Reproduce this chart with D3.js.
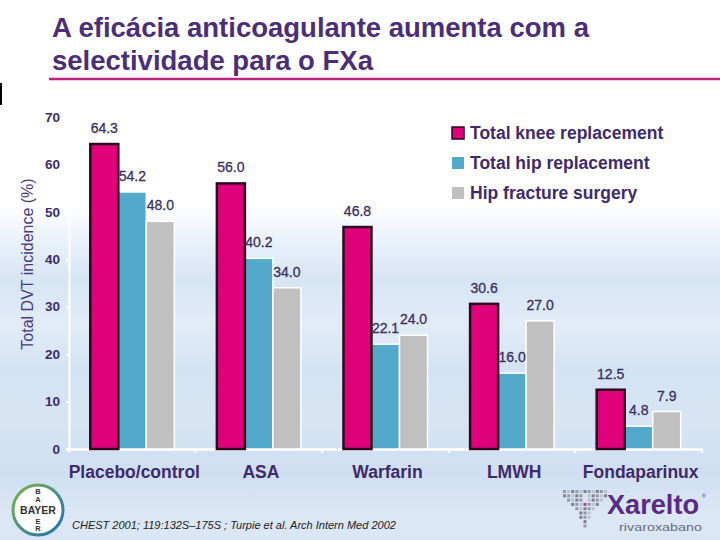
<!DOCTYPE html>
<html>
<head>
<meta charset="utf-8">
<script src="https://cdn.jsdelivr.net/npm/d3@7"></script>
<style>
  html, body { margin: 0; padding: 0; background: #fff; }
  svg { display: block; }
</style>
</head>
<body>
<svg id="chart" width="720" height="540"></svg>
<script>
const categories = ["Placebo/control", "ASA", "Warfarin", "LMWH", "Fondaparinux"];
const seriesNames = ["Total knee replacement", "Total hip replacement", "Hip fracture surgery"];
const kneeValues = [64.3, 56.0, 46.8, 30.6, 12.5];
const hipValues = [54.2, 40.2, 22.1, 16.0, 4.8];
const fractureValues = [48.0, 34.0, 24.0, 27.0, 7.9];
const yTicks = [0, 10, 20, 30, 40, 50, 60, 70];
const titleLines = ["A eficácia anticoagulante aumenta com a", "selectividade para o FXa"];
const yTitle = "Total DVT incidence (%)";
const citation = "CHEST 2001; 119:132S\u2013175S ; Turpie et al. Arch Intern Med 2002";

const seriesValues = [kneeValues, hipValues, fractureValues];
const colors = ["#e0007a", "#52a9c9", "#c0c0c0"];
const strokes = ["#2a0a1e", "#ffffff", "#ffffff"];
const textColor = "#3d2c68";

const svg = d3.select("#chart");

// background
const defs = svg.append("defs");
const bg = defs.append("linearGradient").attr("id", "bg").attr("x1", 0).attr("y1", 0).attr("x2", 0).attr("y2", 1);
[[0, "#ffffff"], [0.38, "#ffffff"], [0.45, "#e8f0f9"], [0.52, "#d6e5f4"], [0.60, "#e2ecf7"], [0.68, "#d4e3f3"],
 [0.78, "#d6e4f3"], [0.88, "#cfdff1"], [0.95, "#dbe7f5"], [1, "#dae6f4"]]
  .forEach(([o, c]) => bg.append("stop").attr("offset", o).attr("stop-color", c));
svg.append("rect").attr("width", 720).attr("height", 540).attr("fill", "url(#bg)");

// title
svg.append("g").selectAll("text").data(titleLines).join("text")
  .attr("x", 52).attr("y", (d, i) => 37 + i * 33)
  .attr("font-family", "Liberation Sans, Arial, sans-serif")
  .attr("font-weight", "bold").attr("font-size", 27.5)
  .attr("fill", "#4a2f78").text(d => d);
svg.append("line").attr("x1", 49).attr("x2", 720).attr("y1", 79).attr("y2", 79)
  .attr("stroke", "#c2227f").attr("stroke-width", 2.5);
svg.append("line").attr("x1", 1).attr("x2", 1).attr("y1", 83).attr("y2", 105)
  .attr("stroke", "#000").attr("stroke-width", 2);

// scales
const x0 = d3.scaleBand().domain(categories).range([69, 702]).paddingInner(0).paddingOuter(0);
const x1 = d3.scaleBand().domain(d3.range(seriesNames.length)).range([0, x0.bandwidth()]).paddingInner(0).paddingOuter(0.76);
const y = d3.scaleLinear().domain([0, 70]).range([449, 117]);

// axes (white)
const yAxis = svg.append("g").attr("transform", "translate(69,0)")
  .call(d3.axisLeft(y).tickValues(yTicks).tickSize(3).tickFormat(""));
yAxis.selectAll("path,line").attr("stroke", "#fff").attr("stroke-width", 2);
const xAxis = svg.append("g").attr("transform", "translate(0,449)")
  .call(d3.axisBottom(x0).tickSize(0).tickFormat(""));
xAxis.selectAll("path").attr("stroke", "#fff").attr("stroke-width", 2.5);
svg.append("g").selectAll("line").data(categories.concat([null])).join("line")
  .attr("x1", (d, i) => i < categories.length ? x0(d) : x0.range()[1])
  .attr("x2", (d, i) => i < categories.length ? x0(d) : x0.range()[1])
  .attr("y1", 449).attr("y2", 453).attr("stroke", "#fff").attr("stroke-width", 2);

// y tick labels
svg.append("g").selectAll("text").data(yTicks).join("text")
  .attr("x", 60).attr("y", d => y(d)).attr("dy", "0.35em")
  .attr("text-anchor", "end")
  .attr("font-family", "Liberation Sans, Arial, sans-serif").attr("font-weight", "bold")
  .attr("font-size", 13.5).attr("fill", textColor).text(d => d);

// y title
svg.append("text").attr("transform", "translate(33,264) rotate(-90)")
  .attr("text-anchor", "middle")
  .attr("font-family", "Liberation Sans, Arial, sans-serif")
  .attr("font-size", 16).attr("fill", "#4b3a7c").text(yTitle);

// bars
const flat = [];
categories.forEach((c, ci) => seriesValues.forEach((vals, si) => flat.push({c, si, v: vals[ci]})));
const order = flat.slice().sort((a, b) => (a.si === 0) - (b.si === 0));
svg.append("g").selectAll("rect").data(order).join("rect")
  .attr("x", d => x0(d.c) + x1(d.si))
  .attr("y", d => y(d.v))
  .attr("width", x1.bandwidth())
  .attr("height", d => y(0) - y(d.v))
  .attr("fill", d => colors[d.si])
  .attr("stroke", d => strokes[d.si])
  .attr("stroke-width", d => d.si === 0 ? 2.5 : 1.5);

// value labels
svg.append("g").selectAll("text").data(flat).join("text")
  .attr("x", d => x0(d.c) + x1(d.si) + x1.bandwidth() / 2)
  .attr("y", d => y(d.v) - 11)
  .attr("text-anchor", "middle")
  .attr("font-family", "Liberation Sans Narrow, Liberation Sans, Arial, sans-serif")
  .attr("font-size", 14).attr("fill", "#3a3060")
  .attr("stroke", "#3a3060").attr("stroke-width", 0.3)
  .text(d => d.v.toFixed(1));

// category labels
svg.append("g").selectAll("text").data(categories).join("text")
  .attr("x", d => x0(d) + x0.bandwidth() / 2 + 2).attr("y", 478)
  .attr("text-anchor", "middle")
  .attr("font-family", "Liberation Sans, Arial, sans-serif").attr("font-weight", "bold")
  .attr("font-size", 17.5).attr("fill", "#3f2a6b").text(d => d);

// legend
const lg = svg.append("g").attr("transform", "translate(452,127)");
const li = lg.selectAll("g").data(seriesNames).join("g").attr("transform", (d, i) => `translate(0,${i * 30})`);
li.append("rect").attr("width", 12).attr("height", 12)
  .attr("fill", (d, i) => colors[i])
  .attr("stroke", (d, i) => i === 0 ? "#2a0a1e" : "none").attr("stroke-width", 1.5);
li.append("text").attr("x", 18).attr("y", 6).attr("dy", "0.36em")
  .attr("font-family", "Liberation Sans, Arial, sans-serif").attr("font-weight", "bold")
  .attr("font-size", 17.5).attr("fill", "#3f2a6b").text(d => d);

// citation
svg.append("text").attr("x", 72).attr("y", 529)
  .attr("font-family", "Liberation Sans Narrow, Liberation Sans, Arial, sans-serif")
  .attr("font-style", "italic").attr("font-size", 11).attr("fill", "#222")
  .text(citation);

// Bayer logo
const bay = svg.append("g").attr("transform", "translate(38,510)");
const lgb = defs.append("linearGradient").attr("id", "bayring").attr("x1", 0).attr("y1", 0).attr("x2", 1).attr("y2", 1);
lgb.append("stop").attr("offset", 0).attr("stop-color", "#7ab648");
lgb.append("stop").attr("offset", 1).attr("stop-color", "#1f6fb5");
bay.append("circle").attr("r", 25).attr("fill", "#fff").attr("stroke", "url(#bayring)").attr("stroke-width", 3);
bay.append("text").attr("text-anchor", "middle").attr("dy", "0.36em")
  .attr("font-family", "Liberation Sans, Arial, sans-serif").attr("font-weight", "bold")
  .attr("font-size", 10.5).attr("fill", "#333").text("BAYER");
[["B", -18.5], ["A", -11], ["E", 11], ["R", 18.5]].forEach(([ch, yy]) => {
  bay.append("text").attr("y", yy).attr("text-anchor", "middle").attr("dy", "0.36em")
    .attr("font-family", "Liberation Sans, Arial, sans-serif").attr("font-weight", "bold")
    .attr("font-size", 7.5).attr("fill", "#333").text(ch);
});

// Xarelto logo
const xl = svg.append("g");
const pix = [[0,0],[1,0],[2,0],[3,0],[4,0],[5,0],[6,0],[7,0],[8,0],[9,0],[10,0],[0,1],[1,1],[2,1],[3,1],[4,1],[6,1],[7,1],[8,1],[9,1],[10,1],[1,2],[2,2],[3,2],[4,2],[6,2],[7,2],[8,2],[9,2],[2,3],[3,3],[4,3],[5,3],[6,3],[7,3],[8,3],[3,4],[4,4],[5,4],[6,4],[7,4],[4,5],[5,5],[6,5],[4,6],[5,6],[6,6],[5,7],[5,8]];
xl.selectAll("rect").data(pix).join("rect")
  .attr("x", d => 563 + d[0] * 4.1).attr("y", d => 490 + d[1] * 4.3)
  .attr("width", 3).attr("height", 3)
  .attr("fill", (d, i) => (d[0] === 5 && d[1] === 3) ? "#c0167a" : (i % 3 === 0 ? "#8a8a9a" : (i % 3 === 1 ? "#b8b8c6" : "#6d6d80")))
  .attr("opacity", 0.85);
xl.append("text").attr("x", 607).attr("y", 514)
  .attr("font-family", "Liberation Sans, Arial, sans-serif").attr("font-weight", "bold")
  .attr("font-size", 28).attr("fill", "#5b2a86")
  .attr("textLength", 92).attr("lengthAdjust", "spacingAndGlyphs").text("Xarelto");
xl.append("text").attr("x", 702).attr("y", 498).attr("font-family", "Liberation Sans, Arial, sans-serif")
  .attr("font-size", 5).attr("fill", "#5b2a86").text("®");
xl.append("text").attr("x", 619).attr("y", 531)
  .attr("font-family", "Liberation Sans Narrow, Liberation Sans, Arial, sans-serif")
  .attr("font-size", 10).attr("fill", "#6a6a7a")
  .attr("textLength", 83).attr("lengthAdjust", "spacingAndGlyphs").text("rivaroxabano");
</script>
</body>
</html>
